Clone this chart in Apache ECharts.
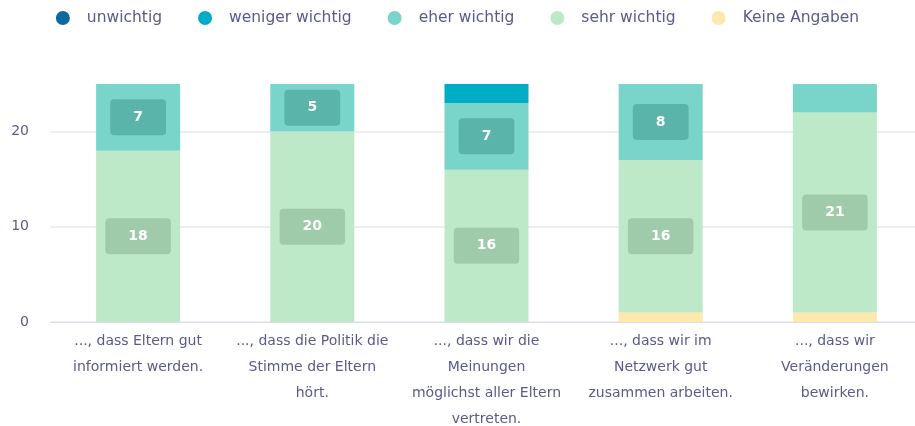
<!DOCTYPE html>
<html>
<head>
<meta charset="utf-8">
<script src="https://cdn.jsdelivr.net/npm/echarts@6/dist/echarts.min.js"></script>
<style>html,body{margin:0;padding:0;background:#fff}#c{width:915px;height:426px}</style>
</head>
<body>
<div id="c"></div>
<script>
var categories = [
  '..., dass Eltern gut\ninformiert werden.',
  '..., dass die Politik die\nStimme der Eltern\nhört.',
  '..., dass wir die\nMeinungen\nmöglichst aller Eltern\nvertreten.',
  '..., dass wir im\nNetzwerk gut\nzusammen arbeiten.',
  '..., dass wir\nVeränderungen\nbewirken.'
];
var seriesNames = ['unwichtig', 'weniger wichtig', 'eher wichtig', 'sehr wichtig', 'Keine Angaben'];
var unwichtig = [0, 0, 0, 0, 0];
var wenigerWichtig = [0, 0, 2, 0, 0];
var eherWichtig = [7, 5, 7, 8, 3];
var sehrWichtig = [18, 20, 16, 16, 21];
var keineAngaben = [0, 0, 0, 1, 1];
var yTicks = [0, 10, 20];

var colors = {
  'unwichtig': '#0a6aa1',
  'weniger wichtig': '#00adc6',
  'eher wichtig': '#79d5c9',
  'sehr wichtig': '#bde9c9',
  'Keine Angaben': '#fde9ab'
};
var labelBg = {
  'unwichtig': '#08557f',
  'weniger wichtig': '#008a9e',
  'eher wichtig': '#5ab4a9',
  'sehr wichtig': '#9fcbaa',
  'Keine Angaben': '#d9c78f'
};
var textColor = '#5a5a8c';
var fontFamily = 'DejaVu Sans';

function makeSeries(name, values) {
  return {
    name: name,
    type: 'bar',
    stack: 'total',
    barWidth: 84,
    itemStyle: { color: colors[name] },
    emphasis: { disabled: true },
    data: values.map(function (v) {
      return { value: v, label: { show: v >= 4 } };
    }),
    label: {
      position: 'inside',
      color: '#ffffff',
      fontFamily: fontFamily,
      fontSize: 14,
      fontWeight: 'bold',
      backgroundColor: labelBg[name],
      borderRadius: 4,
      padding: [11, 23]
    }
  };
}

var chart = echarts.init(document.getElementById('c'));
chart.setOption({
  animation: false,
  color: seriesNames.map(function (n) { return colors[n]; }),
  legend: {
    data: seriesNames,
    top: 5,
    left: 'center',
    icon: 'circle',
    itemWidth: 14,
    itemHeight: 14,
    itemGap: 36,
    textStyle: { color: textColor, fontFamily: fontFamily, fontSize: 15.5, padding: [0, 0, 0, 12] }
  },
  grid: { left: 51, right: -7, top: 84, bottom: 104, containLabel: false, outerBoundsMode: 'none' },
  xAxis: {
    type: 'category',
    data: categories,
    axisLine: { lineStyle: { color: '#dcdcf0', width: 1 } },
    axisTick: { show: false },
    axisLabel: {
      color: textColor,
      fontFamily: fontFamily,
      fontSize: 14,
      lineHeight: 26,
      margin: 6,
      interval: 0
    }
  },
  yAxis: {
    type: 'value',
    min: 0,
    max: 25,
    interval: 10,
    axisLine: { show: false },
    axisTick: { show: false },
    axisLabel: {
      color: textColor,
      fontFamily: fontFamily,
      fontSize: 14,
      margin: 22,
      formatter: function (v) { return yTicks.indexOf(v) >= 0 ? String(v) : ''; }
    },
    splitLine: { lineStyle: { color: ['#eeeeee', '#eeeeee', '#eeeeee', 'rgba(0,0,0,0)'], width: 2 } }
  },
  series: [
    makeSeries('Keine Angaben', keineAngaben),
    makeSeries('sehr wichtig', sehrWichtig),
    makeSeries('eher wichtig', eherWichtig),
    makeSeries('weniger wichtig', wenigerWichtig),
    makeSeries('unwichtig', unwichtig)
  ]
});
</script>
</body>
</html>
